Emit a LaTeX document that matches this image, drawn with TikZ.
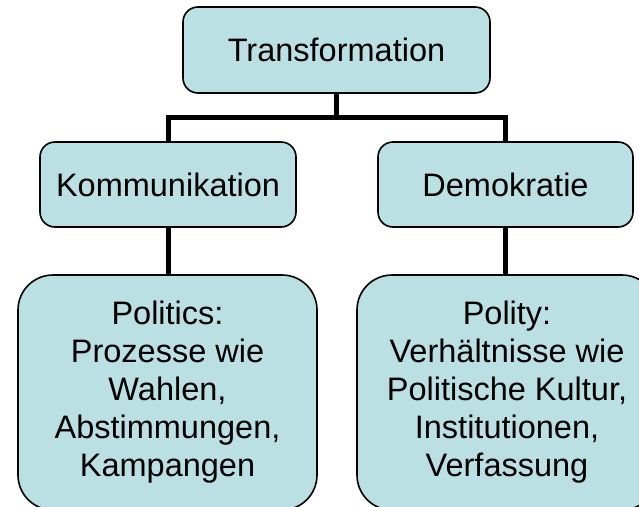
\documentclass[tikz,border=0pt]{standalone}
\usepackage{fontspec}
\setmainfont{Liberation Sans}
\usepackage{tikz}

\definecolor{boxfill}{RGB}{187,224,227}

\tikzset{
  box/.style={draw=black, line width=1.6pt, fill=boxfill, rounded corners=15pt,
    inner sep=0pt, align=center, font=\fontsize{32.5}{38}\selectfont},
  bigbox/.style={box, rounded corners=35pt, minimum width=299pt, minimum height=235pt},
  link/.style={line width=5pt}
}

\begin{document}
\begin{tikzpicture}[x=1pt,y=-1pt]
    \useasboundingbox (0,0) rectangle (639,506);
    \clip (0,0) rectangle (639,506);

    % boxes
    \node [box, minimum width=307pt, minimum height=86pt] (trans) at (336.5,50) {Transformation};
    \node [box, minimum width=256pt, minimum height=85pt] (komm) at (168,184.5) {Kommunikation};
    \node [box, minimum width=255pt, minimum height=85pt] (demo) at (505.5,184.5) {Demokratie};
    \node [bigbox] (politics) at (167.5,392.5) {Politics:\\Prozesse wie\\Wahlen,\\Abstimmungen,\\Kampangen};
    \node [bigbox, minimum width=300pt] (polity) at (507,392.5) {Polity:\\Verhältnisse wie\\Politische Kultur,\\Institutionen,\\Verfassung};

    % links
    \draw [link] (trans.south) -- ++(0,24) coordinate (fork);
    \draw [link] (fork) -| (komm.north);
    \draw [link] (fork) -| (demo.north);
    \draw [link] (komm.south) -- (politics.north -| komm.south);
    \draw [link] (demo.south) -- (polity.north -| demo.south);
\end{tikzpicture}
\end{document}
